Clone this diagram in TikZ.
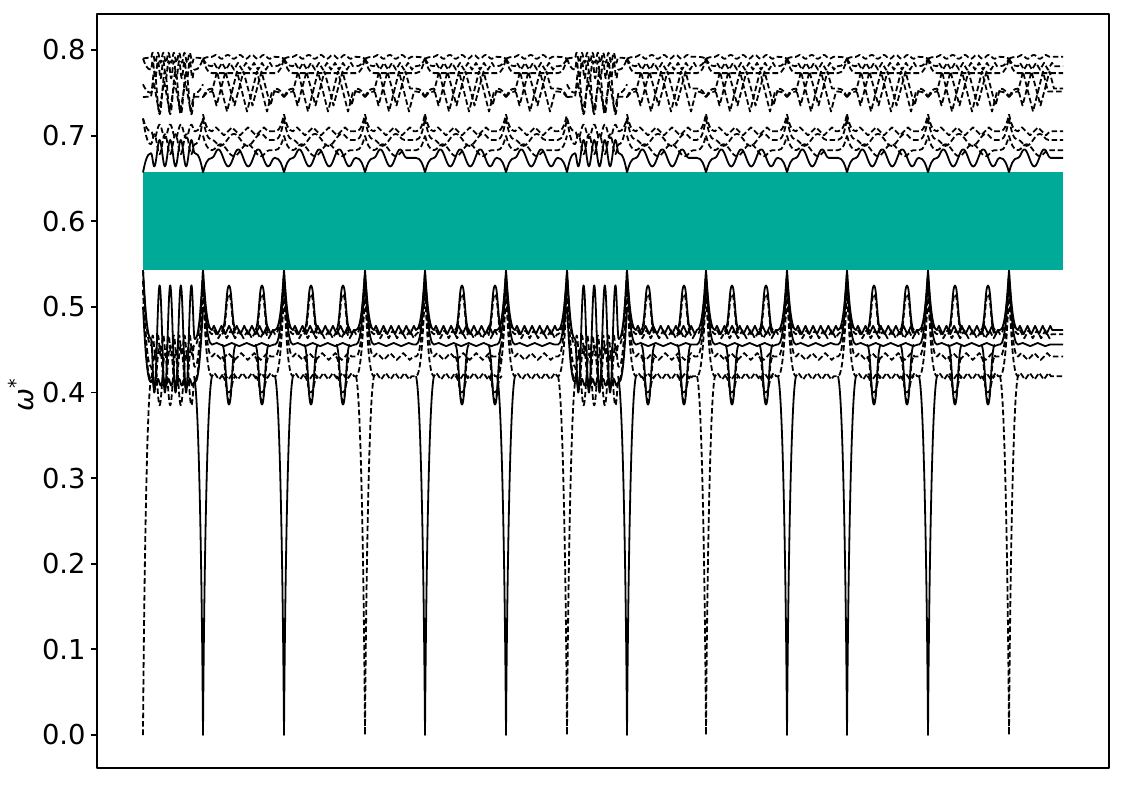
\documentclass[tikz,border=0pt]{standalone}
\usepackage{fontspec}
\setmainfont{DejaVu Sans}
\usetikzlibrary{decorations.pathmorphing}
\definecolor{gapteal}{RGB}{0,170,153}
\tikzset{
  band/.style={line width=0.9pt, line join=round},
  dband/.style={band, dash pattern=on 2.8pt off 1.4pt},
  ticklabel/.style={anchor=east, inner sep=0pt, font=\fontsize{13.7}{16}\selectfont},
  % ripples of the slow segments
  wla/.style={decoration={zigzag, amplitude=2.1pt, segment length=3.8pt}},
  wlb/.style={decoration={zigzag, amplitude=2pt, segment length=4.2pt}},
  wlc/.style={decoration={snake, amplitude=0.8pt, segment length=7.5pt}},
  wld/.style={decoration={zigzag, amplitude=1.7pt, segment length=6.5pt}},
  wle/.style={decoration={zigzag, amplitude=1.7pt, segment length=4.7pt}},
  wua/.style={decoration={snake, amplitude=4.3pt, segment length=10pt}},
  wub/.style={decoration={snake, amplitude=3pt, segment length=13.5pt}},
  wuc/.style={decoration={snake, amplitude=-3pt, segment length=13.5pt}},
  wud/.style={decoration={zigzag, amplitude=2pt, segment length=8pt}},
  wue/.style={decoration={zigzag, amplitude=10pt, segment length=10pt}},
  wuf/.style={decoration={zigzag, amplitude=-8.5pt, segment length=9pt}},
  wug/.style={decoration={lineto}},
  wuh/.style={decoration={zigzag, amplitude=1.7pt, segment length=4pt}},
  wui/.style={decoration={snake, amplitude=1pt, segment length=6pt}},
  % ripples of the fast segments
  fla/.style={decoration={snake, amplitude=-26.8pt, segment length=5.3pt}},
  flb/.style={decoration={snake, amplitude=12.8pt, segment length=5.3pt}},
  flc/.style={decoration={snake, amplitude=-10.7pt, segment length=5.3pt}},
  fld/.style={decoration={snake, amplitude=1.7pt, segment length=2.65pt}},
  fle/.style={decoration={snake, amplitude=5pt, segment length=2.65pt}},
  fua/.style={decoration={snake, amplitude=-6.6pt, segment length=5.3pt}},
  fub/.style={decoration={snake, amplitude=5pt, segment length=5.3pt}},
  fuc/.style={decoration={snake, amplitude=-3.4pt, segment length=5.3pt}},
  fud/.style={decoration={zigzag, amplitude=7.5pt, segment length=5.3pt}},
  fue/.style={decoration={snake, amplitude=10.7pt, segment length=5.3pt}},
  fuf/.style={decoration={snake, amplitude=4.3pt, segment length=2.65pt}},
  fug/.style={decoration={snake, amplitude=2.5pt, segment length=2.65pt}},
}
\begin{document}
\begin{tikzpicture}[x=0.5pt, y=428.125pt]
\useasboundingbox (0,-0.0584) rectangle (1125,0.8584);

% band gap
\fill[gapteal] (143,0.5431) rectangle (1063,0.6575);

% segments with slow ripples
\foreach \a/\b/\k in {203/284/1, 284/365/1, 365/425/1, 425/506/1, 506/567/1,
    627/706/1, 706/787/1, 787/847/1, 847/928/1, 928/1009/1, 1009/1063/0}{
  \foreach \lv/\tv/\s/\w in {0.473/0.543/band/wla, 0.468/0.540/dband/wlb,
      0.456/0.535/band/wlc, 0.442/0.530/dband/wld, 0.419/0.520/dband/wle,
      0.674/0.657/band/wua, 0.683/0.700/dband/wub, 0.695/0.720/dband/wuc,
      0.705/0.725/dband/wud, 0.7515/0.745/dband/wue, 0.755/0.745/dband/wuf,
      0.773/0.790/dband/wug, 0.781/0.790/dband/wuh, 0.792/0.790/dband/wui}{
    \ifnum\k=1 \let\rv\tv \else \let\rv\lv \fi
    \draw[\s] (\a,\tv) .. controls ({\a+2},{(\lv+\tv)/2}) and ({\a+4},\lv) .. ({\a+9},\lv)
      decorate[\w]{ -- ({\b-9},\lv)}
      .. controls ({\b-4},\lv) and ({\b-2},{(\lv+\rv)/2}) .. (\b,\rv);
  }
}

% segments with fast ripples
\foreach \a/\b in {143/203, 567/627}{
  \foreach \lv/\tv/\s/\w in {0.4625/0.543/band/fla, 0.415/0.520/dband/flb,
      0.430/0.530/dband/flc, 0.412/0.500/band/fld, 0.455/0.543/dband/fle,
      0.6795/0.657/band/fua, 0.690/0.720/dband/fub, 0.705/0.720/dband/fuc,
      0.7455/0.745/dband/fud, 0.750/0.760/dband/fue, 0.777/0.790/dband/fuf,
      0.791/0.790/dband/fug}{
    \draw[\s] (\a,\tv) .. controls ({\a+2},{(\lv+\tv)/2}) and ({\a+4},\lv) .. ({\a+8},\lv)
      decorate[\w]{ -- ({\b-8},\lv)}
      .. controls ({\b-4},\lv) and ({\b-2},{(\lv+\tv)/2}) .. (\b,\tv);
  }
}

% tall peaks inside the slow segments
\foreach \p in {229, 262, 311, 343, 462, 495, 648, 684, 732, 766, 874, 907, 955, 988}{
  \foreach \lv/\tv/\s in {0.473/0.525/band, 0.468/0.515/dband, 0.456/0.386/band,
      0.442/0.390/dband, 0.419/0.400/dband}{
    \draw[\s] ({\p-7},\lv) .. controls ({\p-3},\lv) and ({\p-3},\tv) .. (\p,\tv)
      .. controls ({\p+3},\tv) and ({\p+3},\lv) .. ({\p+7},\lv);
  }
}

% acoustic branches down to zero
\draw[dband] (143,0) .. controls (144,0.17) and (147,0.40) .. (151,0.415);
\foreach \d/\s in {203/band, 284/band, 365/dband, 425/band, 506/band, 567/dband,
    627/band, 706/dband, 787/band, 847/band, 928/band, 1009/dband}{
  \draw[\s] ({\d-9},0.419) .. controls ({\d-4},0.40) and ({\d-1},0.17) .. (\d,0)
    .. controls ({\d+1},0.17) and ({\d+4},0.40) .. ({\d+9},0.419);
}

% axes
\draw[band] (97,-0.0385) rectangle (1109,0.8420);
\foreach \v [count=\i] in {0.0,0.1,0.2,0.3,0.4,0.5,0.6,0.7,0.8}{
  \draw[band] (97,\v) -- (91,\v);
  \node[ticklabel] (tick\i) at (86,\v) {\v};
}
\node[rotate=90, font=\fontsize{13.7}{16}\selectfont] (ylab) at (21,0.397) {\itshape ω\textsuperscript{*}};
\end{tikzpicture}
\end{document}
